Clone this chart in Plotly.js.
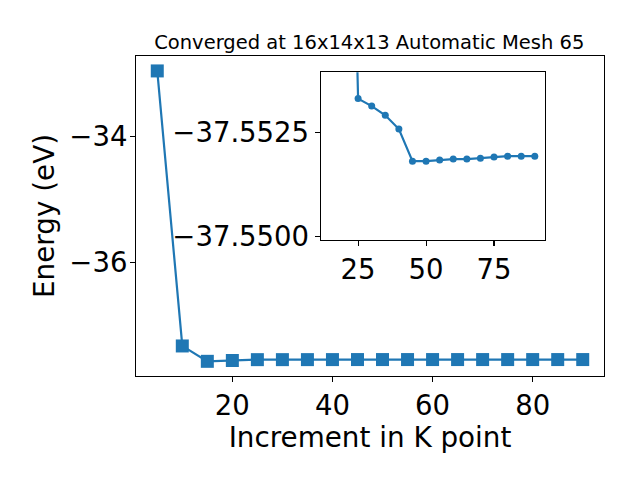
<!DOCTYPE html>
<html>
<head>
<meta charset="utf-8">
<script src="https://cdn.plot.ly/plotly-3.0.1.min.js"></script>
<style>html,body{margin:0;padding:0;background:#fff;}#chart{width:640px;height:480px;}</style>
</head>
<body>
<div id="chart"></div>
<script>
const kpoints = [5,10,15,20,25,30,35,40,45,50,55,60,65,70,75,80,85,90];
const energies = [-32.95,-37.335,-37.58,-37.567,-37.55331,-37.55313,-37.55291,-37.55258,-37.55181,-37.55181,-37.55184,-37.55186,-37.55186,-37.55188,-37.55191,-37.55193,-37.55193,-37.55193];
const insetK = kpoints.slice(2);
const insetE = energies.slice(2);
const mainYTicks = [-36,-34];
const mainYTickText = ['\u221236','\u221234'];
const mainXTicks = [20,40,60,80];
const insetXTicks = [25,50,75];
const insetYTicks = [-37.5525,-37.55];
const insetYTickText = ['\u221237.5525','\u221237.5500'];
const titleText = 'Converged at 16x14x13 Automatic Mesh 65';
const xTitle = 'Increment in K point';
const yTitle = 'Energy (eV)';

const blue = '#1f77b4';
const font = 'DejaVu Sans, sans-serif';

const traces = [
  {x:kpoints, y:energies, type:'scatter', mode:'lines+markers',
   line:{color:blue,width:2.2}, marker:{symbol:'square',size:13,color:blue},
   xaxis:'x', yaxis:'y', showlegend:false, cliponaxis:true},
  {x:insetK, y:insetE, type:'scatter', mode:'lines+markers',
   line:{color:blue,width:2.2}, marker:{symbol:'circle',size:7,color:blue},
   xaxis:'x2', yaxis:'y2', showlegend:false, cliponaxis:true}
];

const axCommon = {showgrid:false, zeroline:false, showline:true, mirror:true,
  linecolor:'#000', linewidth:1.1, ticks:'outside', ticklen:5, tickwidth:1.1, tickcolor:'#000',
  tickfont:{family:font,size:27.5,color:'#000'}};

const layout = {
  width:640, height:480,
  margin:{l:136, r:36, t:56, b:104, pad:0},
  paper_bgcolor:'#fff', plot_bgcolor:'#fff',
  font:{family:font,color:'#000'},
  title:{text:titleText, font:{family:font,size:19.5,color:'#000'}, x:0.577, xanchor:'center', y:0.912, yanchor:'middle'},
  xaxis:Object.assign({}, axCommon, {domain:[0,1], range:[0.75,94.25], tickvals:mainXTicks,
    title:{text:xTitle, font:{family:font,size:27.8,color:'#000'}, standoff:0}, anchor:'y'}),
  yaxis:Object.assign({}, axCommon, {domain:[0,1], range:[-37.814,-32.712], tickvals:mainYTicks, ticktext:mainYTickText,
    ticklabelstandoff:-3,
    title:{text:yTitle, font:{family:font,size:27.8,color:'#000'}, standoff:6}, anchor:'x'}),
  xaxis2:Object.assign({}, axCommon, {domain:[0.3947,0.8739], range:[11.25,93.75], tickvals:insetXTicks, anchor:'y2'}),
  yaxis2:Object.assign({}, axCommon, {domain:[0.425,0.949], range:[-37.54992,-37.55394], tickvals:insetYTicks, ticktext:insetYTickText, anchor:'x2'})
};

Plotly.newPlot('chart', traces, layout, {staticPlot:true, displayModeBar:false});
</script>
</body>
</html>
